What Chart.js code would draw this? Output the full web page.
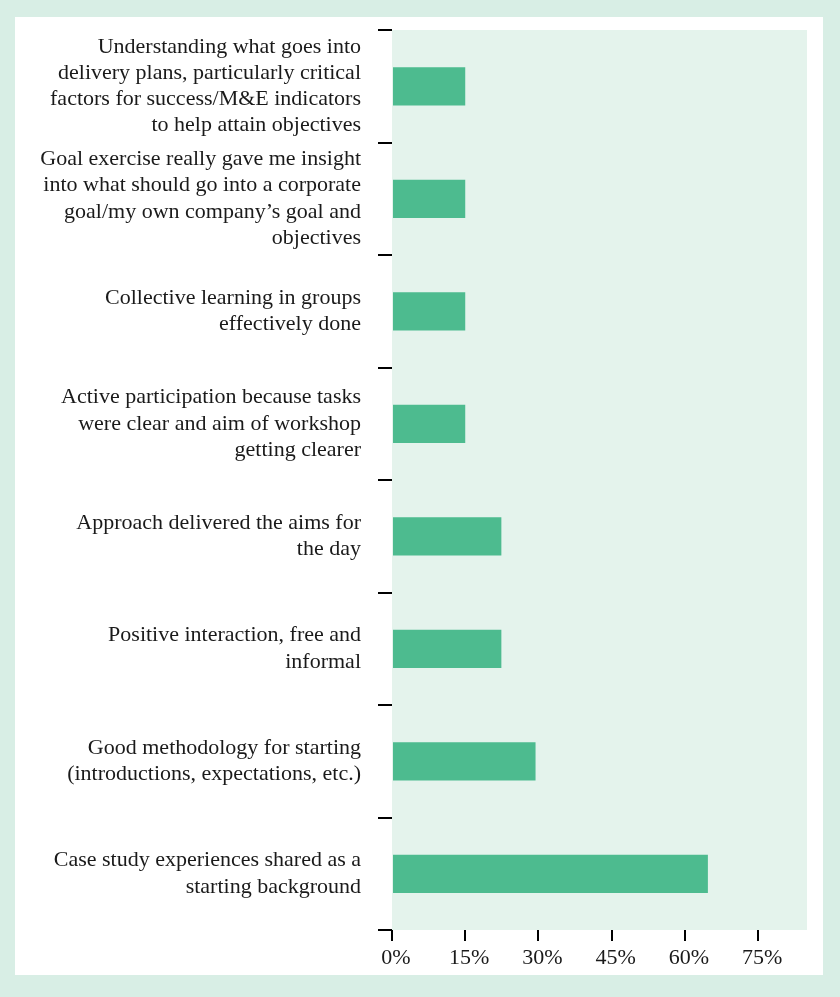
<!DOCTYPE html>
<html lang="en">
<head>
  <meta charset="UTF-8">
  <title>Workshop feedback</title>
  <script src="https://cdn.jsdelivr.net/npm/chart.js"></script>
  <style>
    body { margin: 0; background: #d8eee5; width: 840px; height: 997px; position: relative; overflow: hidden; }
    .panel { position: absolute; left: 15px; top: 17px; width: 808px; height: 958px; background: #fff; }
  </style>
</head>
<body>
  <div class="panel">
    <canvas id="feedbackChart" width="808" height="958"></canvas>
  </div>

  <script>
    const categories = [
      ['Understanding what goes into', 'delivery plans, particularly critical', 'factors for success/M&E indicators', 'to help attain objectives'],
      ['Goal exercise really gave me insight', 'into what should go into a corporate', 'goal/my own company\u2019s goal and', 'objectives'],
      ['Collective learning in groups', 'effectively done'],
      ['Active participation because tasks', 'were clear and aim of workshop', 'getting clearer'],
      ['Approach delivered the aims for', 'the day'],
      ['Positive interaction, free and', 'informal'],
      ['Good methodology for starting', '(introductions, expectations, etc.)'],
      ['Case study experiences shared as a', 'starting background']
    ];
    const shares = [15, 15, 15, 15, 22.4, 22.4, 29.4, 64.7];
    const xTicks = [0, 15, 30, 45, 60, 75];

    // light green plot area
    const plotBg = {
      id: 'plotBg',
      beforeDraw(chart) {
        const { ctx, chartArea: a } = chart;
        ctx.save();
        ctx.fillStyle = '#e4f3ec';
        ctx.fillRect(a.left, a.top, a.right - a.left, a.bottom - a.top);
        ctx.restore();
      }
    };

    const font = { family: "'Liberation Serif', serif", size: 22, lineHeight: 1.19 };

    new Chart(document.getElementById('feedbackChart'), {
      type: 'bar',
      data: {
        labels: categories,
        datasets: [{
          data: shares,
          backgroundColor: '#4dbb8f',
          categoryPercentage: 1,
          barPercentage: 0.34
        }]
      },
      options: {
        indexAxis: 'y',
        responsive: false,
        animation: false,
        layout: { padding: { top: 13, right: 16, left: 0, bottom: 0 } },
        plugins: { legend: { display: false }, tooltip: { enabled: false } },
        scales: {
          x: {
            min: 0,
            max: 85,
            afterBuildTicks: axis => { axis.ticks = xTicks.map(v => ({ value: v })); },
            afterFit: scale => { scale.height = 45; scale.paddingLeft = 0; scale.paddingRight = 0; },
            border: { display: false },
            grid: { drawOnChartArea: false, tickLength: 11, color: '#000', lineWidth: 2 },
            ticks: { color: '#1a1a1a', font: font, padding: 4, labelOffset: 4, callback: v => v + '%' }
          },
          y: {
            afterFit: scale => { scale.width = 377; scale.paddingTop = 0; scale.paddingBottom = 0; },
            border: { display: false },
            grid: { offset: true, drawOnChartArea: false, tickLength: 14, color: '#000', lineWidth: 2 },
            ticks: { color: '#1a1a1a', font: font, padding: 17 }
          }
        }
      },
      plugins: [plotBg]
    });
  </script>
</body>
</html>
